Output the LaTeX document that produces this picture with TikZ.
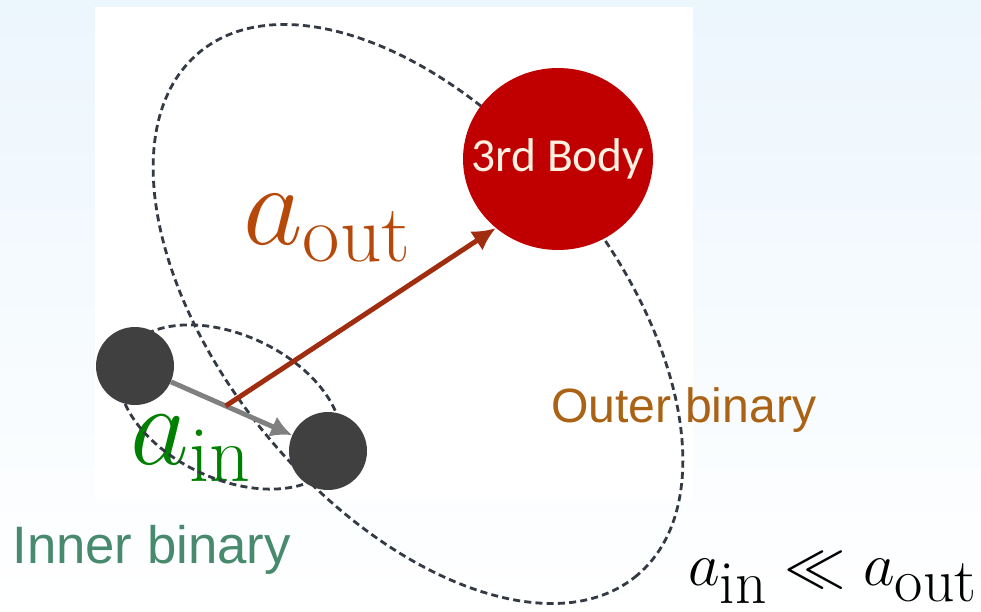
\RequirePackage{fix-cm}
\documentclass[tikz,border=0pt]{standalone}
\usepackage{fontspec}
\usepackage{tikz}
\usetikzlibrary{positioning,arrows.meta,calc,shapes.geometric}
\newfontfamily\labsans{Liberation Sans}
\newfontfamily\bodysans{Carlito}
\definecolor{bgblue}{RGB}{236,246,253}
\definecolor{orbgray}{RGB}{52,58,68}
\definecolor{balldark}{RGB}{64,64,64}
\definecolor{arrgray}{RGB}{128,128,128}
\definecolor{bodyred}{RGB}{192,0,0}
\definecolor{bodytxt}{RGB}{255,240,225}
\definecolor{outarrow}{RGB}{160,45,15}
\definecolor{outlab}{RGB}{182,72,10}
\definecolor{inlab}{RGB}{0,128,0}
\definecolor{innertxt}{RGB}{72,138,110}
\definecolor{outertxt}{RGB}{170,98,20}
\tikzset{
  orb/.style={draw=orbgray,line width=1.6pt,dash pattern=on 4pt off 2.4pt},
  bball/.style={circle,fill=balldark,minimum size=1.56cm,inner sep=0pt},
  third/.style={ellipse,fill=bodyred,minimum width=3.8cm,minimum height=3.64cm,inner sep=0pt,
    text=bodytxt,font=\bodysans\fontsize{27}{29}\selectfont},
  gar/.style={-{Latex[length=4.2mm,width=4.4mm]},line width=2.8pt,arrgray},
  rar/.style={-{Latex[length=4.6mm,width=4.6mm]},line width=2.8pt,outarrow},
  mlab/.style={anchor=base west,inner sep=0pt},
}
\begin{document}
\begin{tikzpicture}[x=0.02cm,y=-0.02cm]
\useasboundingbox (0,0) rectangle (981,612);
\shade[top color=bgblue,bottom color=white] (0,0) rectangle (981,612);
\fill[white] (95,7) rectangle (693,500);
% labels (orbits run over them)
\node[mlab,text=outlab,font=\fontsize{66}{70}\selectfont] (aout) at (243,244) {$a_{\mathrm{out}}$};
\node[mlab,text=inlab,font=\fontsize{65}{70}\selectfont] (ain) at (130,464) {$a_{\mathrm{in}}$};
\node[mlab,text=innertxt,font=\labsans\fontsize{30}{32}\selectfont] (inner) at (12,563) {Inner binary};
\node[mlab,text=outertxt,font=\labsans\fontsize{27.4}{29}\selectfont] (outer) at (551,422) {Outer binary};
\node[mlab,font=\fontsize{35}{38}\selectfont] (rel) at (688,585) {$a_{\textstyle\mathrm{in}}\ll a_{\textstyle\mathrm{out}}$};
% orbits
\draw[orb,rotate around={-50:(418,314)}] (418,314) ellipse [x radius=341,y radius=194];
\draw[orb,rotate around={-25:(230,407)}] (230,407) ellipse [x radius=118,y radius=72];
% bodies
\node[bball] (m1) at (135,366) {};
\node[bball] (m2) at (328,451) {};
\node[third] (body) at (558,159) {\makebox[0pt]{3rd Body}};
% separations
\draw[gar] (m1) -- (m2);
\coordinate (cm) at ($(m1)!0.47!(m2)$);
\draw[rar] (cm) -- (body.-132);
\end{tikzpicture}
\end{document}
